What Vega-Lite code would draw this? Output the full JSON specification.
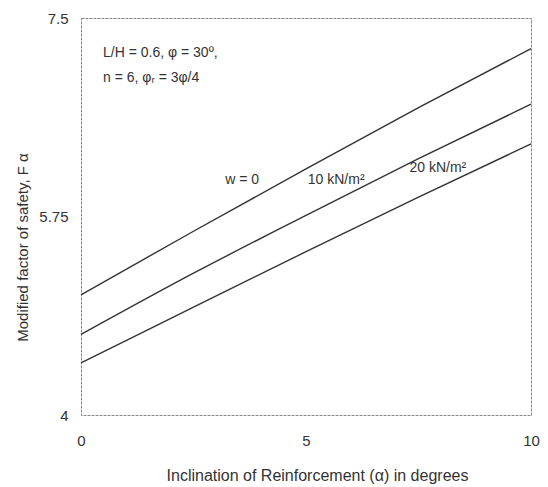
{
  "$schema": "https://vega.github.io/schema/vega-lite/v6.json",
  "autosize": "none",
  "width": 450,
  "height": 397,
  "padding": {"left": 81, "top": 18, "right": 17, "bottom": 72},
  "background": "white",
  "config": {
    "view": {"stroke": "#8a8a8a", "strokeWidth": 1, "strokeDash": [3, 1]},
    "font": "Liberation Sans"
  },
  "datasets": {
    "curves": [
      {"alpha": 0, "F": 5.06, "w": "0"},
      {"alpha": 2.5, "F": 5.62, "w": "0"},
      {"alpha": 5, "F": 6.17, "w": "0"},
      {"alpha": 7.5, "F": 6.71, "w": "0"},
      {"alpha": 10, "F": 7.23, "w": "0"},
      {"alpha": 0, "F": 4.71, "w": "10"},
      {"alpha": 2.5, "F": 5.25, "w": "10"},
      {"alpha": 5, "F": 5.76, "w": "10"},
      {"alpha": 7.5, "F": 6.26, "w": "10"},
      {"alpha": 10, "F": 6.74, "w": "10"},
      {"alpha": 0, "F": 4.46, "w": "20"},
      {"alpha": 2.5, "F": 4.95, "w": "20"},
      {"alpha": 5, "F": 5.44, "w": "20"},
      {"alpha": 7.5, "F": 5.92, "w": "20"},
      {"alpha": 10, "F": 6.39, "w": "20"}
    ],
    "labels": [
      {"alpha": 3.58, "F": 6.07, "label": "w  = 0"},
      {"alpha": 5.67, "F": 6.07, "label": "10 kN/m²"},
      {"alpha": 7.93, "F": 6.18, "label": "20 kN/m²"}
    ],
    "notes": [
      {"alpha": 0.49, "F": 7.19, "label": "L/H = 0.6, φ = 30º,"},
      {"alpha": 0.49, "F": 6.97, "label": "n = 6,  φᵣ = 3φ/4"}
    ]
  },
  "layer": [
    {
      "data": {"name": "curves"},
      "mark": {"type": "line", "color": "#333333", "strokeWidth": 1.4, "interpolate": "monotone"},
      "encoding": {
        "x": {
          "field": "alpha", "type": "quantitative",
          "scale": {"domain": [0, 10], "nice": false},
          "axis": {
            "title": "Inclination of Reinforcement (α) in degrees",
            "values": [0, 5, 10], "labelFlush": false,
            "grid": false, "domain": false, "ticks": false,
            "labelPadding": 18, "labelFontSize": 15, "labelColor": "#333",
            "titleFontSize": 16, "titleFontWeight": "normal", "titleColor": "#333",
            "titleX": 236, "titleY": 60, "titleBaseline": "middle"
          }
        },
        "y": {
          "field": "F", "type": "quantitative",
          "scale": {"domain": [4, 7.5], "nice": false, "zero": false},
          "axis": {
            "title": "Modified factor of safety, F α",
            "values": [4, 5.75, 7.5], "format": ".3~g", "labelFlush": false,
            "grid": false, "domain": false, "ticks": false,
            "labelPadding": 13, "labelFontSize": 15, "labelColor": "#333",
            "titleFontSize": 15, "titleFontWeight": "normal", "titleColor": "#333",
            "titleX": -59, "titleY": 229, "titleBaseline": "middle",
            "titleAngle": -90, "titleAlign": "center"
          }
        },
        "detail": {"field": "w", "type": "nominal"}
      }
    },
    {
      "data": {"name": "labels"},
      "mark": {"type": "text", "fontSize": 14, "color": "#333", "align": "center", "baseline": "middle"},
      "encoding": {
        "x": {"field": "alpha", "type": "quantitative"},
        "y": {"field": "F", "type": "quantitative"},
        "text": {"field": "label"}
      }
    },
    {
      "data": {"name": "notes"},
      "mark": {"type": "text", "fontSize": 14, "color": "#333", "align": "left", "baseline": "middle"},
      "encoding": {
        "x": {"field": "alpha", "type": "quantitative"},
        "y": {"field": "F", "type": "quantitative"},
        "text": {"field": "label"}
      }
    }
  ]
}
